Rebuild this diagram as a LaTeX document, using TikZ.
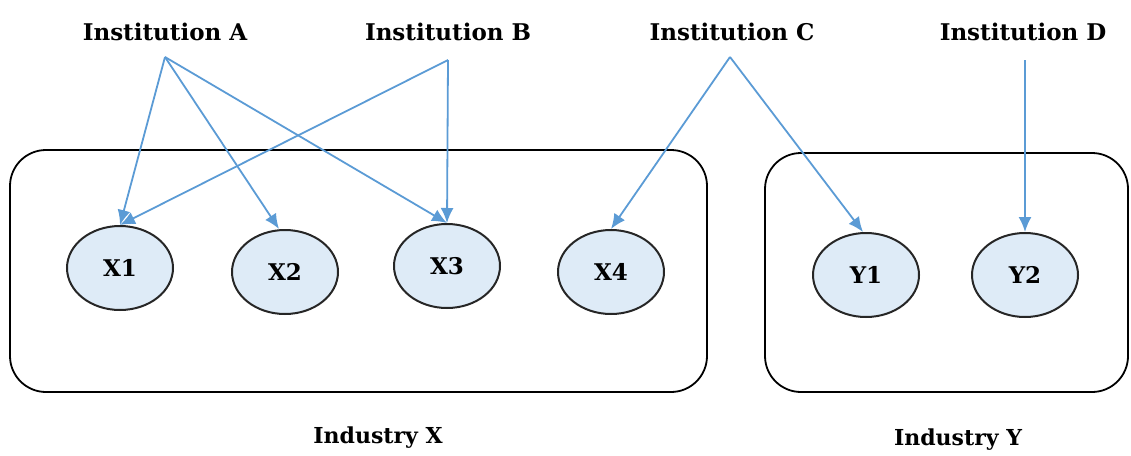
\documentclass[tikz,border=0pt]{standalone}
\usepackage{fontspec}
\setmainfont{DejaVu Serif}
\usetikzlibrary{arrows.meta,shapes.geometric}
\definecolor{arrowblue}{RGB}{91,155,213}
\definecolor{nodefill}{RGB}{222,235,247}
\begin{document}
\begin{tikzpicture}[x=1pt,y=-1pt,
  inst/.style={font=\fontsize{23}{27}\selectfont\bfseries, inner sep=0pt},
  ind/.style={font=\fontsize{22}{26}\selectfont\bfseries, inner sep=0pt},
  firm/.style={ellipse, draw=black!85, line width=2pt, fill=nodefill, minimum width=106pt, minimum height=84pt, inner sep=0pt, font=\fontsize{23}{27}\selectfont\bfseries},
  industry/.style={draw=black, line width=1.8pt, rounded corners=36pt},
  link/.style={draw=arrowblue, line width=1.8pt, -{Latex[length=15pt,width=13pt]}}
]
\useasboundingbox (0,0) rectangle (1131,455);
% industry boxes
\draw[industry] (10,150) rectangle (707,392);
\draw[industry] (765,153) rectangle (1128,392);
% institutions
\node[inst] (iA) at (165,32) {Institution A};
\node[inst] (iB) at (448,32) {Institution B};
\node[inst] (iC) at (732,32) {Institution C};
\node[inst] (iD) at (1023,32) {Institution D};
\coordinate (oA) at (165,57);
\coordinate (oB) at (448,60);
\coordinate (oC) at (730,57);
\coordinate (oD) at (1025,60);
% firms
\node[firm] (X1) at (120,268) {X1};
\node[firm] (X2) at (285,272) {X2};
\node[firm] (X3) at (447,266) {X3};
\node[firm] (X4) at (611,272) {X4};
\node[firm] (Y1) at (866,275) {Y1};
\node[firm] (Y2) at (1025,275) {Y2};
% labels
\node[ind] (lX) at (378,438) {Industry X};
\node[ind] (lY) at (958,440) {Industry Y};
% links
\draw[link] (oA) -- (X1.north);
\draw[link] (oA) -- ([xshift=-6pt]X2.north);
\draw[link] (oA) -- (X3.north);
\draw[link] (oB) -- (X1.north);
\draw[link] (oB) -- (X3.north);
\draw[link] (oC) -- (X4.north);
\draw[link] (oC) -- ([xshift=-3pt]Y1.north);
\draw[link] (oD) -- (Y2.north);
\end{tikzpicture}
\end{document}
